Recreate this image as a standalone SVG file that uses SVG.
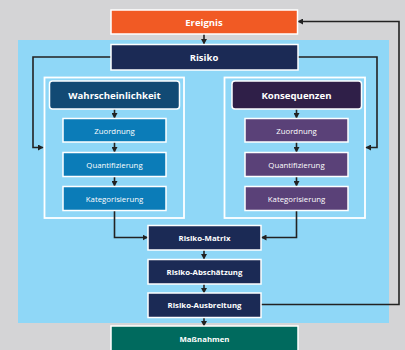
<svg xmlns="http://www.w3.org/2000/svg" width="405" height="350" viewBox="0 0 405 350">
<defs>
<marker id="ah" markerWidth="6" markerHeight="6" refX="5" refY="3" orient="auto" markerUnits="userSpaceOnUse">
<path d="M0,0 L5.5,3 L0,6 Z" fill="#222"/>
</marker>
<style>
.t{font-family:"Open Sans","Noto Sans",sans-serif;fill:#fff;text-anchor:middle;dominant-baseline:central}
.b{font-weight:bold}
.box{stroke:#fff;stroke-width:1.5}
.frame{fill:none;stroke:#fff;stroke-width:1.8}
.c{fill:none;stroke:#222;stroke-width:1.6;marker-end:url(#ah)}
</style>
</defs>
<rect x="0" y="0" width="405" height="350" fill="#d4d4d6"/>
<rect x="18" y="40" width="371" height="283" fill="#8fd7f7"/>
<rect class="frame" x="44.5" y="77.5" width="139.5" height="140.5"/>
<rect class="frame" x="224.5" y="77.5" width="140.5" height="140.5"/>
<g id="connectors">
<path class="c" d="M204,34 V44"/>
<path class="c" d="M111,57 H33 V147.5 H43"/>
<path class="c" d="M298,57 H377 V147.5 H366"/>
<path class="c" d="M114.5,109 V118"/>
<path class="c" d="M114.5,142 V152"/>
<path class="c" d="M114.5,176 V186"/>
<path class="c" d="M296.5,109 V118"/>
<path class="c" d="M296.5,142 V152"/>
<path class="c" d="M296.5,176 V186"/>
<path class="c" d="M114.5,211 V237.5 H147.5"/>
<path class="c" d="M296.5,211 V237.5 H261.5"/>
<path class="c" d="M204,250 V259"/>
<path class="c" d="M204,284 V293"/>
<path class="c" d="M204,317 V326"/>
<path class="c" d="M261,304.5 H399 V21.5 H298"/>
</g>
<g id="ereignis"><rect class="box" x="111" y="10" width="186.5" height="24" fill="#f15a24"/><text class="t b" x="204" y="22.5" font-size="9.5">Ereignis</text></g>
<g id="risiko"><rect class="box" x="111" y="44.5" width="187" height="25.5" fill="#1b2a55"/><text class="t b" x="204" y="57.5" font-size="9.5">Risiko</text></g>
<g id="wahrscheinlichkeit"><rect class="box" x="49.5" y="81" width="130" height="28" rx="3" fill="#124a74"/><text class="t b" x="114.5" y="95.5" font-size="9.6">Wahrscheinlichkeit</text></g>
<g id="konsequenzen"><rect class="box" x="232" y="81" width="129.5" height="28" rx="3" fill="#2f1f48"/><text class="t b" x="296.5" y="95.5" font-size="9.6">Konsequenzen</text></g>
<g id="zuordnung-w"><rect class="box" x="63" y="118.5" width="103" height="23.5" fill="#0b7cb8"/><text class="t" x="114.5" y="130.5" font-size="7.8">Zuordnung</text></g>
<g id="quantifizierung-w"><rect class="box" x="63" y="152.5" width="103" height="24" fill="#0b7cb8"/><text class="t" x="114.5" y="164.5" font-size="7.8">Quantifizierung</text></g>
<g id="kategorisierung-w"><rect class="box" x="63" y="186.5" width="103" height="24" fill="#0b7cb8"/><text class="t" x="114.5" y="198.5" font-size="7.8">Kategorisierung</text></g>
<g id="zuordnung-k"><rect class="box" x="245" y="118.5" width="103" height="23.5" fill="#5a4178"/><text class="t" x="296.5" y="130.5" font-size="7.8">Zuordnung</text></g>
<g id="quantifizierung-k"><rect class="box" x="245" y="152.5" width="103" height="24" fill="#5a4178"/><text class="t" x="296.5" y="164.5" font-size="7.8">Quantifizierung</text></g>
<g id="kategorisierung-k"><rect class="box" x="245" y="186.5" width="103" height="24" fill="#5a4178"/><text class="t" x="296.5" y="198.5" font-size="7.8">Kategorisierung</text></g>
<g id="risiko-matrix"><rect class="box" x="148" y="225.5" width="113" height="24.5" fill="#1b2a55"/><text class="t b" x="204.5" y="237.5" font-size="7.8">Risiko-Matrix</text></g>
<g id="risiko-abschaetzung"><rect class="box" x="148" y="259.5" width="113" height="24.5" fill="#1b2a55"/><text class="t b" x="204.5" y="271.5" font-size="7.8">Risiko-Abschätzung</text></g>
<g id="risiko-ausbreitung"><rect class="box" x="148" y="293" width="113" height="24.5" fill="#1b2a55"/><text class="t b" x="204.5" y="305" font-size="7.8">Risiko-Ausbreitung</text></g>
<g id="massnahmen"><rect class="box" x="111" y="326" width="187" height="30" fill="#006a5e"/><text class="t b" x="204.5" y="338.5" font-size="7.8">Maßnahmen</text></g>
</svg>
